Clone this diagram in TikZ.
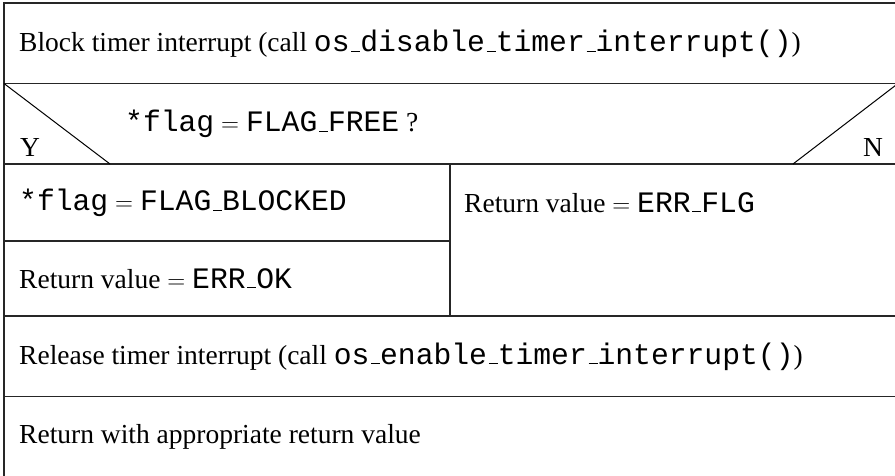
\documentclass[tikz,border=0pt]{standalone}
\usepackage{fontspec}
\setmainfont{Liberation Serif}
\setmonofont[Scale=1.08]{Liberation Mono}
% low, short underscore as in classic TeX typewriter output
\newcommand\usc{\leavevmode\kern.06em\vbox{\hrule height 1pt width .3em}}
\begin{document}
\begin{tikzpicture}[x=1pt,y=-1pt,
  frame/.style={line width=1.8pt,black!85},
  slant/.style={line width=1pt,black},
  txt/.style={anchor=base west,inner sep=0pt,font=\fontsize{27.5}{33}\selectfont}]
\clip (0,0) rectangle (895,476);
\fill[white] (0,0) rectangle (895,476);
% grid points of the structogram
\coordinate (tl) at (4,3);
\coordinate (tr) at (898,3);
\coordinate (bl) at (4,480);
\coordinate (c1l) at (4,83.5);   \coordinate (c1r) at (898,83.5);
\coordinate (c2l) at (4,164);    \coordinate (c2r) at (898,164);
\coordinate (s1l) at (4,241);    \coordinate (s1r) at (450,241);
\coordinate (mtop) at (450,164); \coordinate (mbot) at (450,316);
\coordinate (c3l) at (4,316);    \coordinate (c3r) at (898,316);
\coordinate (c4l) at (4,396.5);  \coordinate (c4r) at (898,396.5);
\coordinate (yend) at (110,164); \coordinate (nend) at (793,164);
% frame and rows
\draw[frame] (bl) -- (tl) -- (tr);
\draw[frame] (c1l) -- (c1r);
\draw[frame] (c2l) -- (c2r);
\draw[frame] (s1l) -- (s1r);
\draw[frame] (mtop) -- (mbot);
\draw[frame] (c3l) -- (c3r);
\draw[frame] (c4l) -- (c4r);
% condition triangle
\draw[slant] (c1l) -- (yend);
\draw[slant] (nend) -- (c1r);
% texts
\node[txt] (block) at (19,52) {Block timer interrupt (call \texttt{os\usc disable\usc timer\usc interrupt()})};
\node[txt] (cond) at (125,132) {\texttt{*flag}${}={}$\texttt{FLAG\usc FREE} ?};
\node[txt] (yes) at (20,157) {Y};
\node[txt] (no) at (863,157) {N};
\node[txt] (setflag) at (19,211) {\texttt{*flag}${}={}$\texttt{FLAG\usc BLOCKED}};
\node[txt] (retok) at (19,288) {Return value${}={}$\texttt{ERR\usc OK}};
\node[txt] (retflg) at (464,212) {Return value${}={}$\texttt{ERR\usc FLG}};
\node[txt] (release) at (19,364) {Release timer interrupt (call \texttt{os\usc enable\usc timer\usc interrupt()})};
\node[txt] (ret) at (19,443) {Return with appropriate return value};
\end{tikzpicture}
\end{document}
